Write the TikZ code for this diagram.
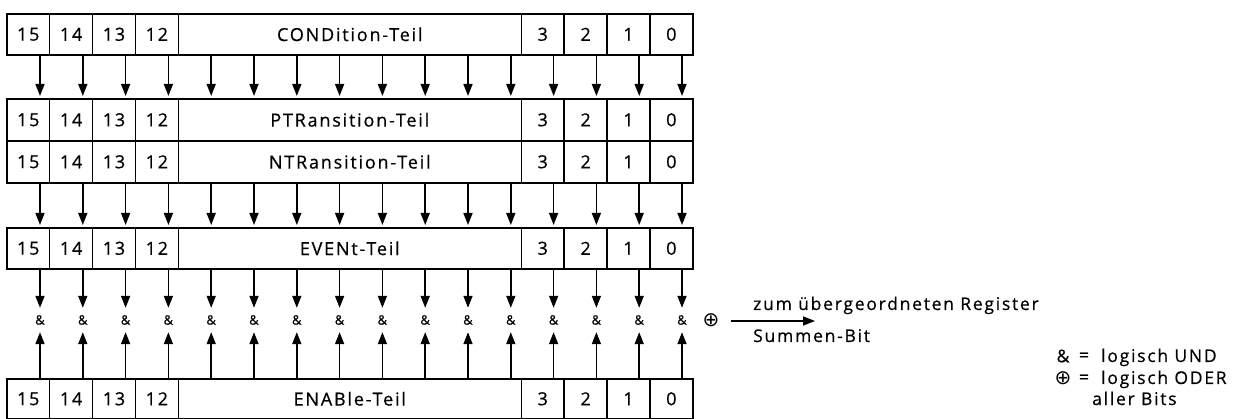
\documentclass[tikz,border=0pt]{standalone}
\usepackage{fontspec}
\setmainfont{Open Sans}[LetterSpace=10, FakeBold=0.5]
\newfontfamily\symfont{DejaVu Sans}
\usetikzlibrary{arrows.meta}
\newcommand\regrow[4]{% name, top y, height, label
  \foreach \b [count=\i from 0] in {15,14,13,12}
    \node[cell, minimum width=42.875pt, minimum height=#3pt] (#1-\b) at ({6+\i*42.875},#2) {\b};
  \node[cell, minimum width=343pt, minimum height=#3pt] (#1-w) at (177.5,#2) {#4};
  \foreach \b [count=\i from 12] in {3,2,1,0}
    \node[cell, minimum width=42.875pt, minimum height=#3pt] (#1-\b) at ({6+\i*42.875},#2) {\b};
}
\begin{document}
\begin{tikzpicture}[x=1pt,y=-1pt,
  cell/.style={draw, line width=1.6pt, inner sep=0pt, anchor=north west,
    font=\fontsize{18}{20}\selectfont},
  conn/.style={line width=1.6pt, -{Triangle[length=12pt,width=9pt]}},
  andop/.style={font=\fontsize{13}{14}\selectfont, inner sep=0pt, minimum height=24pt},
  txt/.style={font=\fontsize{17.5}{20}\selectfont, inner sep=0pt},
  sym/.style={font=\symfont\fontsize{20}{22}\selectfont, inner sep=0pt}]
\useasboundingbox (0,0) rectangle (1250,419);
\fill[white] (0,0) rectangle (1250,419);

\regrow{C}{13}{41}{CONDition-Teil}
\regrow{P}{98}{42}{PTRansition-Teil}
\regrow{N}{140}{42}{NTRansition-Teil}
\regrow{E}{227}{41}{EVENt-Teil}
\regrow{A}{378}{40}{ENABle-Teil}

\foreach \k in {0,...,15} {
  \coordinate (x\k) at ({40+\k*42.8},0);
  \node[andop] (and\k) at ({40+\k*42.8},320) {\&};
  \draw[conn, shorten >=2pt] (x\k |- C-w.south) -- (x\k |- P-w.north);
  \draw[conn, shorten >=2pt] (x\k |- N-w.south) -- (x\k |- E-w.north);
  \draw[conn] (x\k |- E-w.south) -- (and\k.north);
  \draw[conn] (x\k |- A-w.north) -- (and\k.south);
}

\node[sym] (orsym) at (711,320) {⊕};
\coordinate (tgt) at (815,321);
\draw[conn] ([xshift=11pt]orsym.east |- tgt) -- (tgt);
\node[txt, anchor=base west] (up) at (753,310) {zum übergeordneten Register};
\node[txt, anchor=base west] (sb) at (753,342) {Summen-Bit};

\node[txt] (l1s) at (1063,356) {\&};
\node[txt] (l1e) at (1084,357) {=};
\node[txt, anchor=base west] (l1t) at (1101,362) {logisch UND};
\node[sym] (l2s) at (1063,378) {⊕};
\node[txt] (l2e) at (1084,379) {=};
\node[txt, anchor=base west] (l2t) at (1101,384) {logisch ODER};
\node[txt, anchor=base west] (l3t) at (1092,405) {aller Bits};
\end{tikzpicture}
\end{document}
